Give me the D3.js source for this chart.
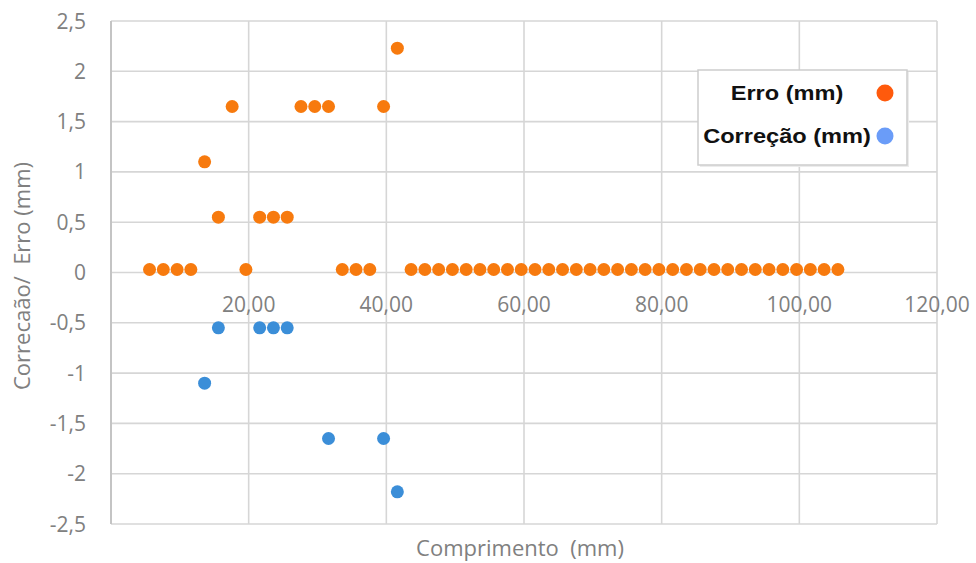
<!DOCTYPE html>
<html>
<head>
<meta charset="utf-8">
<script src="https://cdn.jsdelivr.net/npm/d3@7"></script>
<style>
  body { margin: 0; background: #fff; }
  svg text { white-space: pre; }
</style>
</head>
<body>
<div id="main"></div>
<script>
// comprimento (mm) for the Erro series
let comprimento = [5.6, 7.6, 9.6, 11.6, 13.6, 15.6, 17.6, 19.6, 21.6, 23.6,
                   25.6, 27.6, 29.6, 31.6, 33.6, 35.6, 37.6, 39.6, 41.6, 43.6,
                   45.6, 47.6, 49.6, 51.6, 53.6, 55.6, 57.6, 59.6, 61.6, 63.6,
                   65.6, 67.6, 69.6, 71.6, 73.6, 75.6, 77.6, 79.6, 81.6, 83.6,
                   85.6, 87.6, 89.6, 91.6, 93.6, 95.6, 97.6, 99.6, 101.6, 103.6,
                   105.6];
let erro = [0.03, 0.03, 0.03, 0.03, 1.1, 0.55, 1.65, 0.03, 0.55, 0.55,
            0.55, 1.65, 1.65, 1.65, 0.03, 0.03, 0.03, 1.65, 2.23, 0.03,
            0.03, 0.03, 0.03, 0.03, 0.03, 0.03, 0.03, 0.03, 0.03, 0.03,
            0.03, 0.03, 0.03, 0.03, 0.03, 0.03, 0.03, 0.03, 0.03, 0.03,
            0.03, 0.03, 0.03, 0.03, 0.03, 0.03, 0.03, 0.03, 0.03, 0.03,
            0.03];

let correcaoX = [13.6, 15.6, 21.6, 23.6, 25.6, 31.6, 39.6, 41.6];
let correcao = [-1.1, -0.55, -0.55, -0.55, -0.55, -1.65, -1.65, -2.18];

let xTicks = [20, 40, 60, 80, 100, 120];
let xTickLabels = ["20,00", "40,00", "60,00", "80,00", "100,00", "120,00"];
let yTicks = [-2.5, -2, -1.5, -1, -0.5, 0, 0.5, 1, 1.5, 2, 2.5];
let yTickLabels = ["-2,5", "-2", "-1,5", "-1", "-0,5", "0", "0,5", "1", "1,5", "2", "2,5"];

let seriesNames = ["Erro (mm)", "Correção (mm)"];
let seriesColors = ["#f77a0e", "#3b8ed8"];
let legendColors = ["#ff5a0c", "#6a9cf8"];

let w = 976;
let h = 563;
let plotL = 111, plotR = 937, plotT = 21, plotB = 524;

let xScale = d3.scaleLinear().domain([0, 120]).range([plotL, plotR]);
let yScale = d3.scaleLinear().domain([-2.5, 2.5]).range([plotB, plotT]);

let svg = d3.select("#main")
  .append("svg")
  .attr("width", w)
  .attr("height", h);

let gridColor = "#d6d6d6";

// horizontal gridlines
svg.append("g")
  .selectAll("line")
  .data(yTicks)
  .enter()
  .append("line")
  .attr("x1", plotL).attr("x2", plotR)
  .attr("y1", d => yScale(d)).attr("y2", d => yScale(d))
  .attr("stroke", gridColor)
  .attr("stroke-width", 1.6);

// vertical gridlines
svg.append("g")
  .selectAll("line")
  .data(xTicks)
  .enter()
  .append("line")
  .attr("x1", d => xScale(d)).attr("x2", d => xScale(d))
  .attr("y1", plotT).attr("y2", plotB)
  .attr("stroke", gridColor)
  .attr("stroke-width", 1.6);

// y axis line
svg.append("line")
  .attr("x1", plotL).attr("x2", plotL)
  .attr("y1", plotT).attr("y2", plotB)
  .attr("stroke", "#c4c4c4")
  .attr("stroke-width", 2);

// y tick labels
svg.append("g")
  .selectAll("text")
  .data(yTicks)
  .enter()
  .append("text")
  .attr("x", 86)
  .attr("y", d => yScale(d))
  .attr("dy", "0.36em")
  .attr("text-anchor", "end")
  .attr("font-family", "Open Sans")
  .attr("font-size", 21)
  .attr("fill", "#808080")
  .text((d, i) => yTickLabels[i]);

// x tick labels, sitting just under the zero line
svg.append("g")
  .selectAll("text")
  .data(xTicks)
  .enter()
  .append("text")
  .attr("x", d => xScale(d))
  .attr("y", yScale(0) + 39)
  .attr("text-anchor", "middle")
  .attr("font-family", "Open Sans")
  .attr("font-size", 21)
  .attr("fill", "#808080")
  .text((d, i) => xTickLabels[i]);

// axis titles
svg.append("text")
  .attr("x", 520)
  .attr("y", 556)
  .attr("text-anchor", "middle")
  .attr("font-family", "Open Sans")
  .attr("font-size", 22)
  .attr("fill", "#808080")
  .text("Comprimento  (mm)");

svg.append("text")
  .attr("transform", "translate(30,276) rotate(-90)")
  .attr("text-anchor", "middle")
  .attr("font-family", "Open Sans")
  .attr("font-size", 22)
  .attr("fill", "#808080")
  .text("Correcaão/  Erro (mm)");

// Erro points
svg.append("g")
  .selectAll("circle")
  .data(erro)
  .enter()
  .append("circle")
  .attr("cx", (d, i) => xScale(comprimento[i]))
  .attr("cy", d => yScale(d))
  .attr("r", 6.5)
  .attr("fill", seriesColors[0]);

// Correção points
svg.append("g")
  .selectAll("circle")
  .data(correcao)
  .enter()
  .append("circle")
  .attr("cx", (d, i) => xScale(correcaoX[i]))
  .attr("cy", d => yScale(d))
  .attr("r", 6.5)
  .attr("fill", seriesColors[1]);

// legend
let legend = svg.append("g").attr("transform", "translate(698,70)");

legend.append("rect")
  .attr("x", 2).attr("y", 2)
  .attr("width", 209).attr("height", 95)
  .attr("fill", "#ececec");

legend.append("rect")
  .attr("width", 209).attr("height", 95)
  .attr("fill", "#fff")
  .attr("stroke", "#cdcdcd")
  .attr("stroke-width", 1.5);

let item = legend.selectAll("g.item")
  .data(seriesNames)
  .enter()
  .append("g")
  .attr("class", "item")
  .attr("transform", (d, i) => "translate(0," + (23 + i * 43) + ")");

item.append("text")
  .attr("transform", "translate(89,0) scale(1.18,1)")
  .attr("dy", "0.35em")
  .attr("text-anchor", "middle")
  .attr("font-family", "Liberation Sans")
  .attr("font-weight", "bold")
  .attr("font-size", 20)
  .attr("fill", "#111")
  .text(d => d);

item.append("circle")
  .attr("cx", 187)
  .attr("cy", 0)
  .attr("r", 8.5)
  .attr("fill", (d, i) => legendColors[i]);
</script>
</body>
</html>
